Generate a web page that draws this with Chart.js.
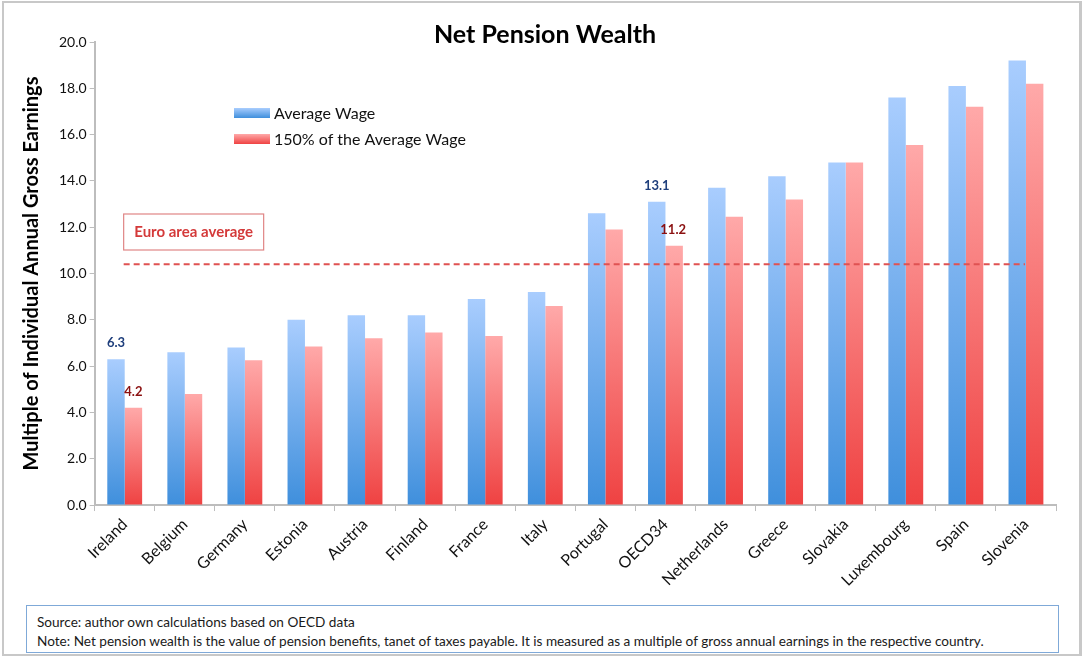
<!DOCTYPE html>
<html>
<head>
<meta charset="utf-8">
<script src="https://cdn.jsdelivr.net/npm/chart.js@4.4.1/dist/chart.umd.min.js"></script>
<style>
  html, body { margin: 0; padding: 0; background: #fff; }
  #frame { position: relative; width: 1080px; height: 655px; border: 2px solid #c8c8c8; border-right-width: 3px; box-sizing: border-box; margin: 1px 0 0 2px; }
  #wrap { position: absolute; left: 0; top: 0; width: 1076px; height: 600px; }
  #note { position: absolute; left: 22px; top: 602px; width: 1033px; height: 48px; border: 1.5px solid #7fa9d8; box-sizing: border-box;
          font-family: Lato, "Open Sans", sans-serif; font-size: 13.6px; color: #1a1a1a; padding: 7px 0 0 10px; line-height: 19px; }
</style>
</head>
<body>
<div id="frame">
  <div id="wrap"><canvas id="chart"></canvas></div>
  <div id="note">Source: author own calculations based on OECD data<br>Note: Net pension wealth is the value of pension benefits, tanet of taxes payable. It is measured as a multiple of gross annual earnings in the respective country.</div>
</div>
<script>
const countries = ["Ireland", "Belgium", "Germany", "Estonia", "Austria", "Finland", "France", "Italy",
  "Portugal", "OECD34", "Netherlands", "Greece", "Slovakia", "Luxembourg", "Spain", "Slovenia"];
const averageWage = [6.3, 6.6, 6.8, 8.0, 8.2, 8.2, 8.9, 9.2, 12.6, 13.1, 13.7, 14.2, 14.8, 17.6, 18.1, 19.2];
const wage150 = [4.2, 4.8, 6.25, 6.85, 7.2, 7.45, 7.3, 8.6, 11.9, 11.2, 12.45, 13.2, 14.8, 15.55, 17.2, 18.2];
const euroAverage = 10.4;
const yTicks = [0, 2, 4, 6, 8, 10, 12, 14, 16, 18, 20];

const blueStops = ["#a9cdfe", "#3f8fdc"];
const redStops = ["#ffa9a9", "#ef4242"];

function barGradient(stops) {
  return (ctx) => {
    const chart = ctx.chart;
    const y = chart.scales.y;
    if (!y || ctx.parsed == null) return stops[1];
    const top = y.getPixelForValue(ctx.parsed.y);
    const bottom = y.getPixelForValue(0);
    if (!isFinite(top) || top === bottom) return stops[1];
    const g = chart.ctx.createLinearGradient(0, top, 0, bottom);
    g.addColorStop(0, stops[0]);
    g.addColorStop(1, stops[1]);
    return g;
  };
}

const extras = {
  id: "extras",
  afterDatasetsDraw(chart) {
    const c = chart.ctx;
    const y = chart.scales.y;
    const area = chart.chartArea;
    c.save();
    // euro area dashed line
    const ly = y.getPixelForValue(euroAverage);
    c.strokeStyle = "#e05252";
    c.lineWidth = 2;
    c.setLineDash([6, 4]);
    c.beginPath();
    c.moveTo(area.left + 29, ly);
    c.lineTo(area.right - 31, ly);
    c.stroke();
    c.setLineDash([]);

    // euro area label box
    c.strokeStyle = "#e08585";
    c.lineWidth = 1.2;
    c.strokeRect(area.left + 29, 211, 140, 36);
    c.fillStyle = "#d43a3a";
    c.font = "bold 15px Lato, 'Open Sans', sans-serif";
    c.textAlign = "center";
    c.textBaseline = "middle";
    c.fillText("Euro area average", area.left + 99, 229);

    // title
    c.fillStyle = "#000";
    c.font = "bold 25px Lato, 'Open Sans', sans-serif";
    c.fillText("Net Pension Wealth", 541, 32);

    // legend
    const items = [["Average Wage", blueStops], ["150% of the Average Wage", redStops]];
    items.forEach(([label, stops], i) => {
      const cy = 110 + i * 26;
      const g = c.createLinearGradient(0, cy - 5, 0, cy + 5);
      g.addColorStop(0, stops[0]);
      g.addColorStop(1, stops[1]);
      c.fillStyle = g;
      c.fillRect(230, cy - 5, 36, 10);
      c.fillStyle = "#111";
      c.font = "16px Lato, 'Open Sans', sans-serif";
      c.textAlign = "left";
      c.fillText(label, 270, cy + 1);
    });

    // value labels for Ireland and OECD34
    const labelled = [[0, 0, "#1f3f7c"], [0, 1, "#8b1010"], [9, 0, "#1f3f7c"], [9, 1, "#8b1010"]];
    c.font = "bold 13px Lato, 'Open Sans', sans-serif";
    c.textAlign = "center";
    labelled.forEach(([idx, ds, col]) => {
      const bar = chart.getDatasetMeta(ds).data[idx];
      const v = chart.data.datasets[ds].data[idx];
      c.fillStyle = col;
      c.fillText(v.toFixed(1), bar.x - (ds === 1 && idx === 9 ? 1 : 0), bar.y - 16);
    });
    c.restore();
  }
};

new Chart(document.getElementById("chart"), {
  type: "bar",
  data: {
    labels: countries,
    datasets: [
      { label: "Average Wage", data: averageWage, backgroundColor: barGradient(blueStops) },
      { label: "150% of the Average Wage", data: wage150, backgroundColor: barGradient(redStops) }
    ]
  },
  options: {
    responsive: true,
    maintainAspectRatio: false,
    animation: false,
    layout: { padding: { top: 39, right: 24, left: 12, bottom: 9 } },
    datasets: { bar: { categoryPercentage: 0.58, barPercentage: 1.0 } },
    plugins: { legend: { display: false }, tooltip: { enabled: false } },
    scales: {
      x: {
        grid: { display: true, drawOnChartArea: false, drawTicks: true, tickLength: 6, color: "#bdbdbd", offset: true },
        border: { color: "#bdbdbd", width: 2 },
        ticks: { color: "#111", font: { family: "Lato, 'Open Sans', sans-serif", size: 16 }, minRotation: 45, maxRotation: 45, padding: 4 }
      },
      y: {
        min: 0,
        max: 20,
        afterBuildTicks: (axis) => { axis.ticks = yTicks.map((v) => ({ value: v })); },
        grid: { display: true, drawOnChartArea: false, drawTicks: true, tickLength: 5, color: "#bdbdbd" },
        border: { color: "#bdbdbd", width: 2 },
        title: { display: true, text: "Multiple of Individual Annual Gross Earnings", color: "#000",
                 font: { family: "Lato, 'Open Sans', sans-serif", size: 20, weight: "bold" }, padding: { bottom: 12 } },
        ticks: { color: "#111", font: { family: "Lato, 'Open Sans', sans-serif", size: 14 }, callback: (v) => Number(v).toFixed(1) }
      }
    }
  },
  plugins: [extras]
});
</script>
</body>
</html>
